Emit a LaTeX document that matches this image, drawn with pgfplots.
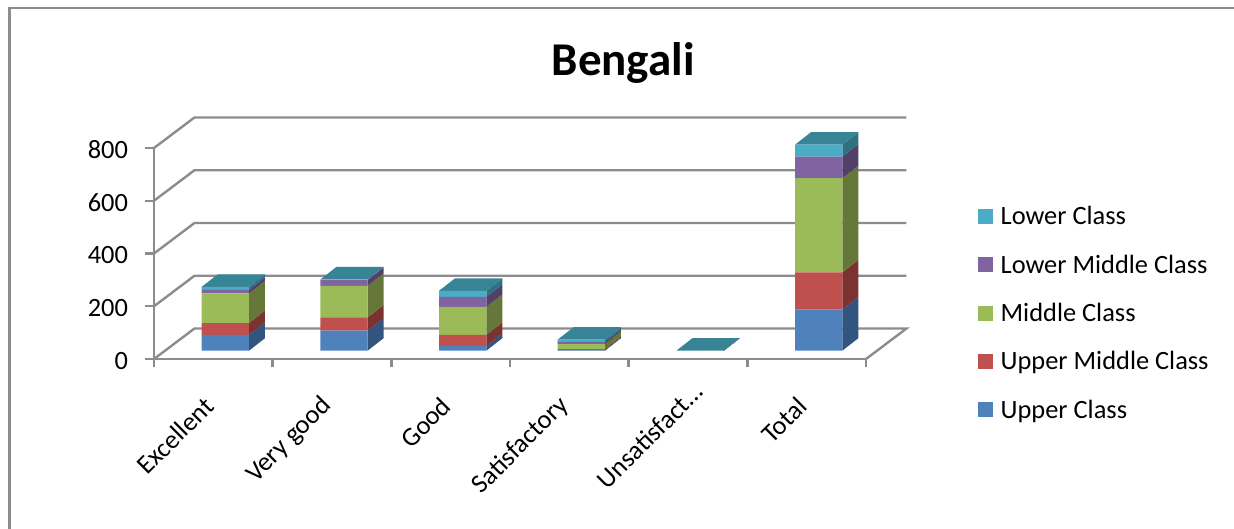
\documentclass[border=0pt]{standalone}
\usepackage{fontspec}
\setmainfont{Carlito}
\usepackage{pgfplots}
\usepackage{pgfplotstable}
\pgfplotsset{compat=1.18}

% front colours of the stacked segments
\definecolor{cUpper}{HTML}{4F81BD}
\definecolor{cUpperMid}{HTML}{C0504D}
\definecolor{cMiddle}{HTML}{9BBB59}
\definecolor{cLowerMid}{HTML}{8064A2}
\definecolor{cLower}{HTML}{4BACC6}
% shaded side faces and the top face
\definecolor{sUpper}{HTML}{31557E}
\definecolor{sUpperMid}{HTML}{7B3230}
\definecolor{sMiddle}{HTML}{667839}
\definecolor{sLowerMid}{HTML}{534068}
\definecolor{sLower}{HTML}{2F7083}
\definecolor{cTop}{HTML}{378497}
\definecolor{wall}{HTML}{8C8C8C}

% number of pupils per grade and class
\pgfplotstableread{
pos upper uppermid middle lowermid lower
0.5 60 45 112 14 11
1.5 76 50 120 22 2
2.5 18 42 106 38 23
3.5 2 4 19 8 9
4.5 0 0 0 0 0
5.5 156 141 357 82 45
}\gradedata

% box depth, in axis units (16 px across, 12.5 px up)
\def\boxdx{0.1348}
\def\boxdy{47.4}
\def\boxhalf{0.1993}

\newcommand\boxfaces[1]{%
  \pgfplotstablegetelem{#1}{pos}\of\gradedata
  \pgfmathsetmacro\xl{\pgfplotsretval-\boxhalf}
  \pgfmathsetmacro\xr{\pgfplotsretval+\boxhalf}
  \pgfmathsetmacro\xrb{\xr+\boxdx}
  \pgfmathsetmacro\xlb{\xl+\boxdx}
  \gdef\runningsum{0}%
  \foreach \col/\shade in {upper/sUpper,uppermid/sUpperMid,middle/sMiddle,lowermid/sLowerMid,lower/sLower}{%
    \pgfplotstablegetelem{#1}{\col}\of\gradedata
    \pgfmathsetmacro\ya{\runningsum}
    \pgfmathsetmacro\yb{\runningsum+\pgfplotsretval}
    \pgfmathsetmacro\yab{\ya+\boxdy}
    \pgfmathsetmacro\ybb{\yb+\boxdy}
    \xdef\runningsum{\yb}%
    \edef\temp{\noexpand\addplot[draw=none,fill=\shade,forget plot] coordinates {(\xr,\ya) (\xrb,\yab) (\xrb,\ybb) (\xr,\yb)} -- cycle;}%
    \temp
  }%
  \pgfmathsetmacro\ytopb{\runningsum+\boxdy}
  \edef\temp{\noexpand\addplot[draw=none,fill=cTop,forget plot] coordinates {(\xl,\runningsum) (\xr,\runningsum) (\xrb,\ytopb) (\xlb,\ytopb)} -- cycle;}%
  \temp
}

\begin{document}
\begin{tikzpicture}[x=1pt,y=1pt]
\useasboundingbox (0,0) rectangle (1234,529);
% outer chart frame, open at the right and bottom
\draw[wall,line width=2.4pt] (9.3,0) -- (9.3,521) -- (1234,521);

% axes, walls and labels
\begin{axis}[
  at={(154pt,170pt)},anchor=south west,
  width=712pt,height=211pt,scale only axis,
  xmin=0,xmax=6,ymin=0,ymax=800,clip=false,
  axis lines=left,
  axis line style={wall,line width=2.4pt,-},
  tick style={wall,line width=2.4pt},
  tick align=outside,
  major tick length=8.5pt,
  xtick={0,1,2,3,4,5,6},
  x tick label as interval,
  xticklabels={Excellent,Very good,Good,Satisfactory,Unsatisfact…\hspace*{-20pt},Total},
  xticklabel style={rotate=45,anchor=east,font=\fontsize{26.4}{30}\selectfont,yshift=-21.1pt,xshift=-23.9pt},
  ytick={0,200,400,600,800},
  yticklabel style={font=\fontsize{26.4}{30}\selectfont,/pgf/number format/assume math mode=true,xshift=-14pt,yshift=-2pt},
  title={Bengali},
  title style={at={(axis description cs:0.659,1.375)},anchor=center,font=\bfseries\fontsize{47}{54}\selectfont},
]
  % back wall rules
  \addplot[wall,line width=2.4pt,forget plot] coordinates {(0,0) (0.341,115.6) (6.341,115.6) (6,0)};
  \addplot[wall,line width=2.4pt,forget plot] coordinates {(0,200) (0.341,315.6) (6.341,315.6)};
  \addplot[wall,line width=2.4pt,forget plot] coordinates {(0,400) (0.341,515.6) (6.341,515.6)};
  \addplot[wall,line width=2.4pt,forget plot] coordinates {(0,600) (0.341,715.6) (6.341,715.6)};
  \addplot[wall,line width=2.4pt,forget plot] coordinates {(0,800) (0.341,915.6) (6.341,915.6)};
\end{axis}

% shaded faces of the boxes
\begin{axis}[
  at={(166pt,178.3pt)},anchor=south west,
  width=712pt,height=211pt,scale only axis,
  xmin=0,xmax=6,ymin=0,ymax=800,clip=false,hide axis,
]
  \boxfaces{0}\boxfaces{1}\boxfaces{2}\boxfaces{3}\boxfaces{4}\boxfaces{5}
\end{axis}

% front faces: the stacked bars
\begin{axis}[
  at={(166pt,178.3pt)},anchor=south west,
  width=712pt,height=211pt,scale only axis,
  xmin=0,xmax=6,ymin=0,ymax=800,clip=false,hide axis,
  ybar stacked,bar width=47.3pt,
  reverse legend,
  legend cell align=left,
  legend image code/.code={\fill[#1,draw=none] (0pt,-7.5pt) rectangle (15pt,7.5pt);},
  legend style={
    at={(axis description cs:1.1404,0.6845)},anchor=north west,
    draw=none,fill=none,inner sep=0pt,
    font=\fontsize{26.4}{30}\selectfont,row sep=28.5pt,
    /tikz/every even column/.append style={column sep=0pt},
    nodes={inner xsep=7.5pt,inner ysep=0pt},
  },
]
  \addplot[fill=cUpper,draw=none] table[x=pos,y=upper]{\gradedata};
  \addplot[fill=cUpperMid,draw=none] table[x=pos,y=uppermid]{\gradedata};
  \addplot[fill=cMiddle,draw=none] table[x=pos,y=middle]{\gradedata};
  \addplot[fill=cLowerMid,draw=none] table[x=pos,y=lowermid]{\gradedata};
  \addplot[fill=cLower,draw=none] table[x=pos,y=lower]{\gradedata};
  \legend{Upper Class,Upper Middle Class,Middle Class,Lower Middle Class,Lower Class}
\end{axis}
\end{tikzpicture}
\end{document}
